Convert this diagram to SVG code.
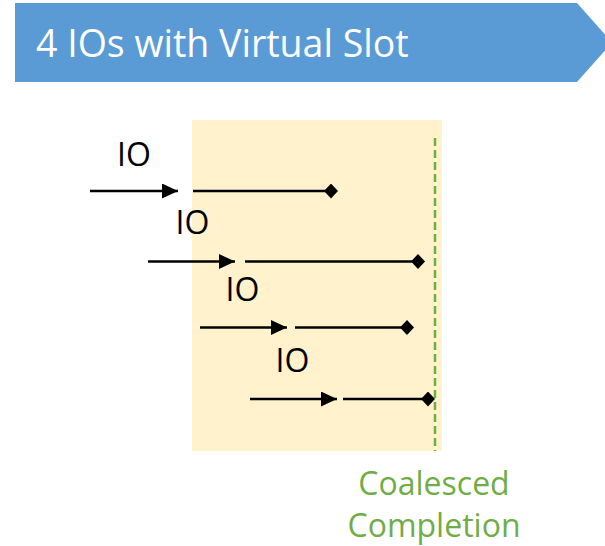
<svg xmlns="http://www.w3.org/2000/svg" width="605" height="546" viewBox="0 0 605 546">
<style>
.io{font-family:"Open Sans","Liberation Sans",sans-serif;font-size:32px;fill:#000;text-anchor:middle}
.ln{stroke:#000;stroke-width:2.3;fill:none}
.cc{font-family:"Open Sans","Liberation Sans",sans-serif;font-size:32px;fill:#70AD47;text-anchor:middle}
</style>
<defs>
<marker id="arr" markerUnits="userSpaceOnUse" markerWidth="17" markerHeight="16" refX="16" refY="7.5" orient="auto"><path d="M0,0 L16,7.5 L0,15 Z" fill="#000"/></marker>
<marker id="dia" markerUnits="userSpaceOnUse" markerWidth="16" markerHeight="16" refX="8" refY="7.5" orient="auto"><path d="M1,7.5 L8,0 L15,7.5 L8,15 Z" fill="#000"/></marker>
</defs>
<g id="title">
<path d="M15,3 L577,3 L612,42.5 L577,82 L15,82 Z" fill="#5B9BD5"/>
<text x="36" y="57" font-family="Open Sans, Liberation Sans, sans-serif" font-size="37.5" fill="#fff">4 IOs with Virtual Slot</text>
</g>
<g id="slot">
<rect x="192" y="120" width="250" height="331" fill="#FFF2CC"/>
<line x1="435" y1="138" x2="435" y2="451" stroke="#70AD47" stroke-width="2.5" stroke-dasharray="8,4"/>
</g>
<g id="connectors">
<line class="ln" x1="90" y1="191" x2="178" y2="191" marker-end="url(#arr)"/>
<line class="ln" x1="193" y1="191" x2="331" y2="191" marker-end="url(#dia)"/>
<line class="ln" x1="148" y1="261.5" x2="235" y2="261.5" marker-end="url(#arr)"/>
<line class="ln" x1="245" y1="261.5" x2="418" y2="261.5" marker-end="url(#dia)"/>
<line class="ln" x1="200" y1="327.5" x2="287" y2="327.5" marker-end="url(#arr)"/>
<line class="ln" x1="295" y1="327.5" x2="407" y2="327.5" marker-end="url(#dia)"/>
<line class="ln" x1="250" y1="399" x2="337" y2="399" marker-end="url(#arr)"/>
<line class="ln" x1="343" y1="399" x2="428" y2="399" marker-end="url(#dia)"/>
</g>
<g id="io1"><text class="io" x="134" y="166">IO</text></g>
<g id="io2"><text class="io" x="192.5" y="234">IO</text></g>
<g id="io3"><text class="io" x="242.5" y="301">IO</text></g>
<g id="io4"><text class="io" x="292.5" y="372">IO</text></g>
<g id="completion">
<text class="cc" x="434" y="495">Coalesced</text>
<text class="cc" x="434" y="537">Completion</text>
</g>
</svg>
